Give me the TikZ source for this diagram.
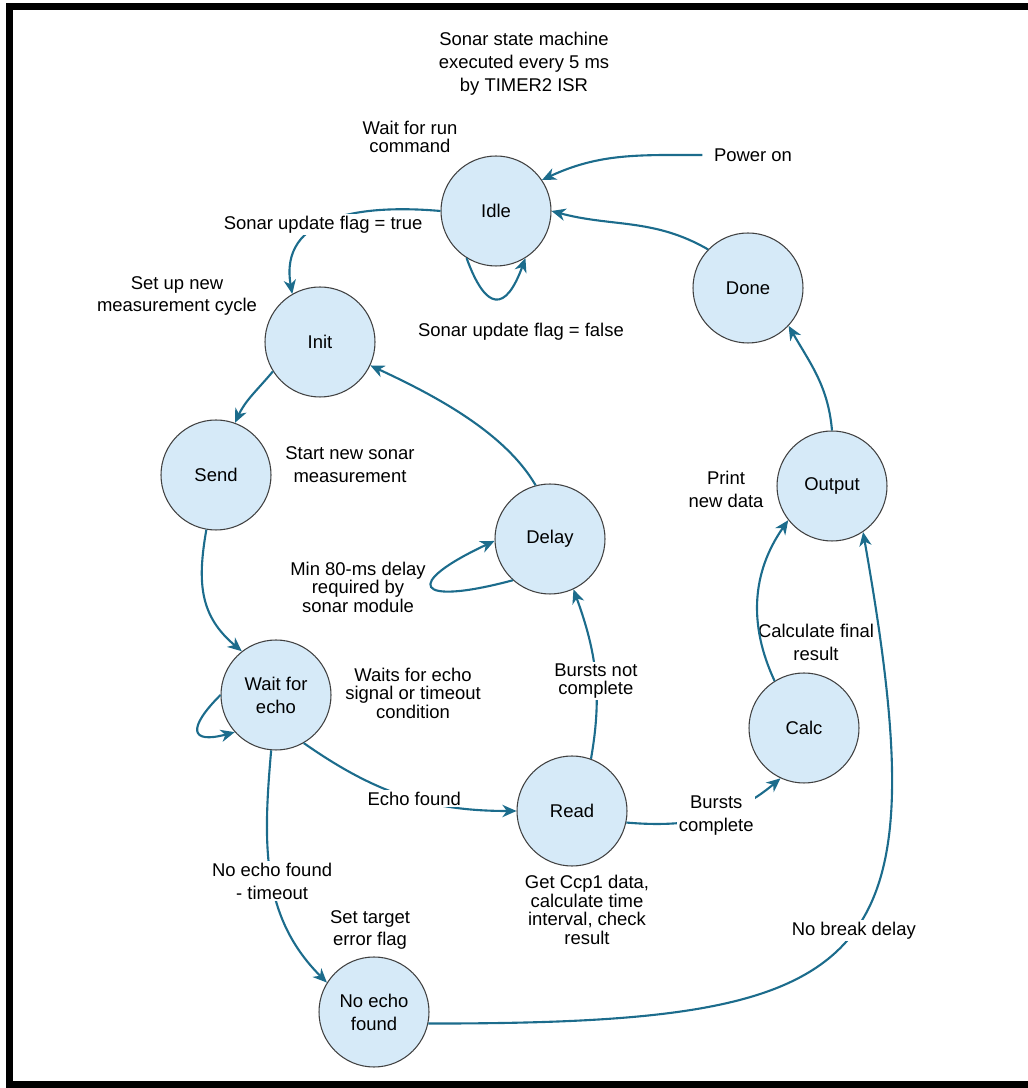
\documentclass[tikz,border=0pt]{standalone}
\usepackage{fontspec}
\setmainfont{Liberation Sans}
\usetikzlibrary{arrows.meta}
\definecolor{statefill}{RGB}{214,234,248}
\definecolor{flowblue}{RGB}{28,108,140}

\begin{document}
\begin{tikzpicture}[
  font=\fontsize{10.5}{13}\selectfont,
  >={Stealth[length=8pt,width=7pt,inset=2.5pt]},
  line width=1.2pt,
  state/.style={circle, draw=black!75, fill=statefill, inner sep=0pt, minimum size=2.2cm, align=center, line width=0.6pt},
  note/.style={align=center, inner sep=1pt},
  tight/.style={note, font=\fontsize{10.5}{10.5}\selectfont},
  edgelbl/.style={note, fill=white},
  flow/.style={->, draw=flowblue}]

\useasboundingbox (0,0) rectangle (20.56,21.76);
\draw[line width=4pt] (20.56,21.63) -- (0.19,21.63) -- (0.19,0.06) -- (20.56,0.06);

\node[state] (idle) at (9.92,17.54) {Idle};
\node[state] (done) at (14.96,16.00) {Done};
\node[state] (init) at (6.40,14.92) {Init};
\node[state] (send) at (4.32,12.26) {Send};
\node[state] (delay) at (11.00,10.98) {Delay};
\node[state] (output) at (16.64,12.04) {Output};
\node[state] (wait) at (5.52,7.86) {Wait for\\echo};
\node[state] (calc) at (16.08,7.20) {Calc};
\node[state] (read) at (11.44,5.54) {Read};
\node[state] (noecho) at (7.48,1.52) {No echo\\found};

\node[note] (title) at (10.48,20.48) {Sonar state machine\\executed every 5 ms\\by TIMER2 ISR};
\node[tight] (runcmd) at (8.20,19.02) {Wait for run\\command};
\node[note, inner sep=6pt] (pwr) at (15.06,18.66) {Power on};
\node[note] (setup) at (3.54,15.84) {Set up new\\measurement cycle};
\node[note] (falseflag) at (10.42,15.12) {Sonar update flag = false};
\node[note] (start) at (7.00,12.46) {Start new sonar\\measurement};
\node[tight] (mindelay) at (7.16,10.02) {Min 80-ms delay\\required by\\sonar module};
\node[note] (print) at (14.52,11.98) {Print\\new data};
\node[tight] (waits) at (8.26,7.90) {Waits for echo\\signal or timeout\\condition};
\node[note] (calcfinal) at (16.32,8.92) {Calculate final\\result};
\node[tight] (getccp) at (11.74,3.56) {Get Ccp1 data,\\calculate time\\interval, check\\result};
\node[note] (settarget) at (7.40,3.16) {Set target\\error flag};

\draw[flow] (pwr.west) to [out=180, in=25] (idle.34);
\draw[flow] (done.136) to [out=150, in=-15] (idle.east);
\draw[flow] (idle.west) to [out=175, in=100, looseness=1.2] node[edgelbl, pos=0.55] {Sonar update flag = true} (init.120);
\draw[flow] (idle.238) to [out=290, in=250, looseness=2.5] (idle.302);
\draw[flow] (init.212) to [out=230, in=65] (send.70);
\draw[flow] (send.260) to [out=260, in=140, looseness=1.1] (wait.128);
\draw[flow] (wait.180) to [out=225, in=195, looseness=3] (wait.222);
\draw[flow] (wait.-60) to [out=-35, in=180] node[edgelbl, pos=0.55] {Echo found} (read.west);
\draw[flow] (wait.265) to [out=265, in=135] node[edgelbl, pos=0.52] {No echo found\\- timeout} (noecho.148);
\draw[flow] (read.70) to [out=80, in=-70] node[edgelbl, tight, pos=0.45] {Bursts not\\complete} (delay.-65);
\draw[flow] (delay.228) to [out=195, in=205, looseness=6] (delay.182);
\draw[flow] (delay.105) to [out=120, in=-25, looseness=0.8] (init.-25);
\draw[flow] (read.-12) to [out=-5, in=220] node[edgelbl, pos=0.55] {Bursts\\complete} (calc.245);
\draw[flow] (calc.122) to [out=115, in=235] (output.218);
\draw[flow] (output.90) to [out=95, in=-60] (done.-43);
\draw[flow] (noecho.-12) to [out=0, in=-80, looseness=1.75] node[edgelbl, pos=0.53] {No break delay} (output.-56);

\end{tikzpicture}
\end{document}
